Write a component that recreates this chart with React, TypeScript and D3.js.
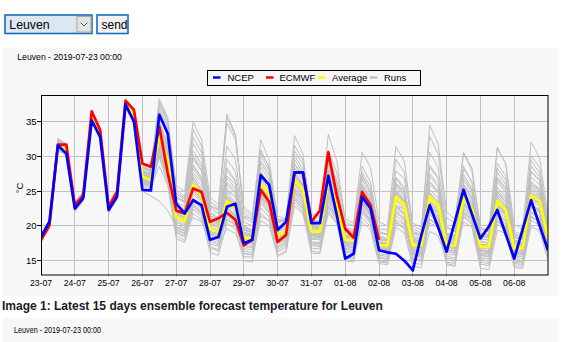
import React from "react";
import * as d3 from "d3";

// ---------- DATA ----------
const CITY = "Leuven";
const RUN_LABEL = "Leuven - 2019-07-23 00:00";
const CAPTION = "Image 1: Latest 15 days ensemble forecast temperature for Leuven";
const DATES = ["23-07", "24-07", "25-07", "26-07", "27-07", "28-07", "29-07", "30-07", "31-07", "01-08", "02-08", "03-08", "04-08", "05-08", "06-08"];
const Y_TICKS = [15, 20, 25, 30, 35];
const STEP_HOURS = 6;
const TOTAL_DAYS = 15;
const LEGEND = ["NCEP", "ECMWF", "Average", "Runs"];

const NCEP = [
  18.4, 20.6, 31.6, 30.4, 22.5, 24.0, 35.2, 32.8, 22.3, 24.2, 37.5, 35.0,
  25.2, 25.1, 36.0, 33.3, 23.2, 21.8, 23.7, 23.0, 18.0, 18.4, 22.75, 23.2,
  17.5, 18.0, 27.3, 25.9, 19.4, 20.6, 27.7, 27.7, 20.4, 20.4, 27.2, 21.6,
  15.3, 16.0, 24.2, 22.5, 16.5, 16.2, 16.0, 15.0, 13.6, 18.6, 23.0, 19.8,
  16.3, 20.7, 25.2, 21.7, 18.2, 19.9, 22.3, 18.8, 15.3, 19.5, 23.7, 20.1, 16.5,
];

const ECMWF = [
  18.0, 20.1, 31.7, 31.7, 23.0, 24.4, 36.5, 33.8, 22.75, 24.9, 38.0, 36.7,
  29.0, 28.5, 34.3, 27.6, 22.2, 21.8, 25.4, 24.9, 20.6, 21.1, 21.9, 20.9,
  17.2, 18.0, 25.2, 23.5, 17.7, 18.7, 27.7, 27.7, 20.6, 22.2, 30.6, 24.4,
  19.6, 18.3, 24.9, 23.0, 18.0,
];

const AVERAGE = [
  18.2, 20.3, 31.5, 31.0, 22.8, 24.2, 35.8, 33.3, 22.6, 24.6, 37.7, 36.0,
  27.1, 26.6, 32.8, 29.5, 21.2, 20.7, 25.9, 24.4, 19.6, 19.2, 23.6, 22.5,
  18.2, 18.2, 26.1, 24.4, 18.7, 19.2, 26.6, 25.2, 19.2, 19.2, 26.4, 23.2,
  18.0, 18.0, 24.7, 22.5, 17.2, 17.2, 24.2, 23.0, 17.2, 17.2, 24.2, 23.0,
  17.2, 17.2, 24.0, 22.5, 17.0, 17.0, 23.6, 22.3, 16.8, 16.8, 24.4, 23.6, 18.2,
];

const RUNS = [
  [18.6,20.8,32.2,31.4, 23.2,24.6,36.2,33.8, 23.0,25.1,38.2,36.6, 28.0,27.4,35.0,31.8, 23.5,22.8,29.6,27.9, 21.4,20.6,27.2,26.0, 19.8,19.4,29.4,27.6, 20.4,20.8,30.2,28.1, 21.0,20.6,28.8,25.4, 19.6,19.2,27.3,25.0, 18.4,18.0,26.8,25.2, 18.8,18.6,27.5,26.1, 19.0,18.5,25.9,24.0, 18.2,18.0,26.4,24.8, 17.9,17.5,27.0,25.9, 19.5],
  [17.8,19.9,30.9,30.5, 22.4,23.8,35.2,32.7, 22.1,24.1,37.1,35.3, 26.2,25.8,31.0,27.4, 19.4,18.9,23.2,22.0, 17.8,17.3,21.0,20.1, 16.4,16.2,23.3,21.8, 16.9,17.5,23.8,22.4, 17.6,17.4,23.5,21.0, 16.2,16.0,21.9,20.3, 15.6,15.3,21.5,20.4, 15.4,15.1,21.0,20.2, 15.3,15.2,21.6,20.1, 15.2,14.9,20.8,19.7, 14.8,14.6,21.9,21.0, 16.4],
  [18.4,20.5,31.9,31.2, 23.0,24.5,36.5,33.9, 22.8,24.9,38.3,36.9, 28.6,28.0,37.2,34.5, 25.3,24.2,32.8,30.6, 23.5,22.6,34.8,32.5, 22.8,21.6,31.0,28.3, 21.4,21.0,33.0,30.4, 20.2,20.0,27.7,24.8, 18.8,18.5,26.0,24.2, 19.0,18.7,27.9,26.8, 20.4,19.8,32.9,30.4, 21.2,20.4,28.6,26.2, 18.5,18.3,25.1,23.9, 18.0,17.6,25.8,24.6, 19.0],
  [18.0,20.1,31.2,30.7, 22.6,24.0,35.5,33.0, 22.4,24.4,37.4,35.6, 26.8,26.3,33.5,30.1, 21.6,21.0,26.4,24.9, 19.2,18.9,22.8,21.6, 18.6,18.5,27.0,25.3, 19.4,19.8,27.3,25.8, 18.7,18.6,25.6,22.4, 17.4,17.3,24.0,21.8, 16.8,16.7,25.1,23.9, 17.6,17.4,23.3,22.0, 16.6,16.5,24.8,23.4, 17.3,17.2,24.5,23.0, 16.2,16.3,23.9,23.1, 17.8],
  [18.9,20.9,32.4,31.6, 23.5,24.9,36.0,33.6, 23.1,25.2,37.9,36.3, 27.9,27.5,36.0,33.6, 24.2,23.5,33.9,31.5, 22.0,21.0,28.4,26.5, 20.0,19.4,24.6,23.0, 17.9,18.4,25.0,23.8, 18.1,18.0,24.1,21.9, 17.2,17.0,23.6,21.8, 16.9,16.6,22.8,21.7, 16.4,16.2,25.9,24.8, 18.0,17.8,26.5,24.9, 17.8,17.6,27.7,26.0, 18.6,18.0,29.4,27.6, 20.2],
  [17.6,19.7,31.0,30.3, 22.0,23.6,35.0,32.5, 21.9,23.9,37.0,35.1, 25.7,25.3,30.2,26.6, 18.6,17.9,22.4,21.3, 16.2,15.8,20.4,19.6, 15.0,14.8,21.8,20.7, 15.6,16.2,22.9,21.7, 16.1,16.0,22.2,20.3, 15.4,15.2,20.6,19.4, 14.6,14.4,19.8,19.0, 14.2,14.0,20.9,20.0, 14.8,14.6,21.3,20.4, 14.5,14.3,20.2,19.5, 14.0,13.9,20.8,20.1, 15.4],
  [18.3,20.4,31.7,31.1, 22.9,24.3,36.1,33.5, 22.7,24.7,37.6,36.0, 27.4,26.9,34.4,31.0, 22.4,21.9,27.3,25.8, 20.6,20.2,25.4,24.1, 19.1,18.8,28.5,26.6, 19.6,20.0,28.4,26.5, 20.2,20.0,27.9,24.6, 18.5,18.4,25.6,23.4, 17.8,17.5,25.2,23.8, 17.9,17.6,24.6,23.3, 17.4,17.3,23.2,21.9, 16.8,16.7,23.0,22.0, 17.2,17.0,25.1,24.2, 18.8],
  [18.1,20.2,31.4,30.9, 22.7,24.1,35.6,33.1, 22.5,24.5,37.8,36.1, 26.9,26.4,31.8,28.6, 20.5,20.0,24.6,23.4, 18.7,18.4,22.6,21.5, 17.5,17.6,25.3,23.7, 18.0,18.6,26.2,24.8, 19.0,18.9,25.8,22.8, 17.6,17.5,23.8,21.6, 16.5,16.4,23.0,21.9, 16.8,16.5,22.9,21.6, 16.5,16.4,23.4,22.0, 16.1,16.0,22.6,21.5, 16.4,16.2,23.6,22.8, 17.4],
  [18.7,20.7,32.0,31.3, 23.3,24.7,36.4,33.9, 23.0,25.0,38.1,36.5, 28.2,27.8,36.7,34.0, 24.6,23.8,30.8,28.9, 22.6,21.8,31.5,29.6, 21.2,20.5,26.4,24.6, 19.8,20.2,30.8,28.9, 21.5,21.2,33.2,29.4, 20.6,20.0,28.6,26.3, 19.2,18.8,29.6,27.7, 19.6,19.0,27.2,25.6, 18.6,18.2,26.9,25.1, 18.9,18.6,28.3,26.6, 19.2,18.7,30.1,28.4, 20.8],
  [18.5,20.6,31.8,31.2, 23.1,24.5,35.9,33.4, 22.9,24.8,37.5,35.8, 27.6,27.1,33.9,30.8, 21.9,21.3,27.0,25.2, 20.1,19.8,24.4,23.2, 18.9,18.7,26.8,25.1, 18.4,19.0,26.0,24.5, 19.6,19.5,26.9,23.9, 18.3,18.1,25.1,23.0, 17.5,17.3,24.6,23.4, 17.0,16.9,24.0,22.7, 17.6,17.4,24.5,22.9, 17.4,17.2,24.2,22.7, 16.9,16.8,24.8,24.0, 18.5],
  [17.9,20.0,31.1,30.6, 22.5,23.9,35.3,32.9, 22.2,24.3,37.3,35.5, 26.5,26.0,30.8,27.3, 19.9,19.4,23.6,22.5, 18.2,17.9,21.6,20.8, 17.0,16.9,24.2,22.9, 17.3,17.9,24.6,23.3, 18.2,18.1,24.4,21.6, 16.8,16.6,22.8,21.0, 16.0,15.8,22.3,21.1, 15.9,15.7,22.1,21.2, 15.9,15.8,22.4,21.3, 15.7,15.6,21.7,20.9, 15.5,15.3,22.6,21.9, 16.8],
  [18.8,20.9,32.6,31.8, 23.4,25.0,36.6,34.1, 23.2,25.3,38.4,36.8, 28.9,28.2,38.3,35.6, 25.8,24.9,35.0,32.4, 24.2,23.0,36.1,33.2, 21.9,20.8,32.4,29.5, 21.0,20.6,27.4,25.6, 19.8,19.6,26.0,23.5, 18.2,17.9,24.8,22.9, 17.7,17.4,26.2,25.0, 19.2,18.8,34.5,31.8, 22.0,21.0,30.5,27.9, 19.6,19.1,31.3,29.0, 20.2,19.6,32.1,29.8, 21.6],
  [18.2,20.3,31.5,31.0, 22.8,24.2,35.7,33.2, 22.6,24.6,37.7,36.0, 27.0,26.6,32.4,29.1, 21.0,20.6,25.5,24.0, 19.5,19.1,23.9,22.6, 18.0,18.1,25.8,24.2, 18.9,19.3,27.0,25.4, 19.3,19.2,26.2,23.1, 18.0,17.9,24.3,22.2, 17.1,17.0,24.0,22.8, 17.3,17.1,24.4,23.1, 17.0,16.9,23.8,22.3, 16.9,16.8,23.3,22.1, 16.7,16.6,24.1,23.3, 18.0],
  [17.7,19.8,30.8,30.2, 22.2,23.7,35.1,32.6, 22.0,24.0,36.9,35.0, 26.0,25.5,29.9,26.1, 18.2,17.6,21.8,20.9, 17.4,17.1,19.6,18.9, 16.1,15.9,22.6,21.3, 16.3,16.9,23.4,22.0, 16.8,16.7,22.9,20.6, 15.9,15.7,21.2,19.9, 15.0,14.8,20.4,19.6, 14.6,14.5,19.2,18.6, 15.1,14.9,20.6,19.8, 13.9,13.7,19.4,18.9, 14.3,14.1,19.9,19.3, 15.0],
  [18.4,20.6,31.9,31.3, 23.0,24.4,36.0,33.5, 22.8,24.8,37.9,36.2, 27.8,27.3,34.9,31.7, 22.9,22.2,28.2,26.6, 21.1,20.5,26.3,25.0, 19.5,19.1,29.0,27.2, 20.6,20.9,31.6,29.5, 21.8,21.4,30.9,27.6, 21.0,20.4,30.6,28.4, 20.6,20.0,31.4,29.3, 20.0,19.4,28.7,27.0, 19.7,19.2,28.2,26.4, 19.0,18.7,27.0,25.5, 18.4,18.0,27.8,26.6, 19.8],
  [18.0,20.0,31.3,30.8, 22.6,24.0,35.4,33.0, 22.3,24.4,37.2,35.4, 26.6,26.1,32.0,28.4, 20.2,19.7,24.9,23.6, 18.9,18.6,22.3,21.3, 17.8,17.6,24.8,23.2, 17.6,18.2,25.4,24.0, 18.4,18.3,25.1,22.2, 17.0,16.9,23.4,21.4, 16.3,16.2,23.6,22.4, 16.6,16.4,23.5,22.3, 16.2,16.1,22.9,21.6, 16.4,16.3,22.1,21.2, 15.9,15.8,23.0,22.3, 17.0],
  [18.6,20.7,32.1,31.5, 23.2,24.8,36.3,33.7, 23.1,25.0,38.0,36.4, 28.4,27.9,37.6,35.0, 24.9,24.0,31.9,29.8, 23.0,22.4,35.6,33.0, 22.4,21.2,30.2,28.0, 20.9,20.8,28.9,26.9, 20.6,20.4,28.2,25.2, 19.2,18.9,26.6,24.6, 18.1,17.8,25.9,24.6, 18.5,18.2,30.6,28.4, 19.9,19.3,27.4,25.4, 18.2,17.9,25.6,24.2, 17.6,17.4,26.3,25.3, 19.0],
  [18.3,20.4,31.6,31.0, 22.9,24.3,35.8,33.3, 22.6,24.7,37.6,35.9, 27.2,26.7,33.0,29.7, 21.4,20.8,26.1,24.6, 19.8,19.4,23.2,22.0, 18.3,18.2,26.3,24.6, 18.6,19.1,26.8,25.3, 19.0,18.9,26.6,23.4, 18.1,18.0,24.9,22.7, 17.3,17.1,24.4,23.1, 17.4,17.2,24.1,22.8, 17.1,17.0,24.2,22.7, 17.1,16.9,23.9,22.5, 16.6,16.5,24.6,23.8, 18.3],
  [17.9,20.1,31.2,30.7, 22.4,23.9,35.4,32.8, 22.3,24.2,37.3,35.4, 26.3,25.9,31.4,28.0, 19.6,19.0,24.1,22.9, 17.0,16.6,22.0,21.0, 15.6,15.5,23.9,22.5, 16.6,17.2,24.2,22.9, 17.2,17.0,23.0,21.3, 15.0,14.8,22.2,20.6, 14.9,14.6,21.9,20.8, 15.2,14.9,21.6,20.6, 14.4,14.2,22.0,20.8, 14.8,14.6,21.2,20.2, 14.6,14.4,21.4,20.6, 15.8],
  [18.5,20.5,31.8,31.2, 23.0,24.5,36.2,33.6, 22.9,24.9,37.8,36.2, 27.7,27.2,34.8,31.4, 22.7,22.0,28.6,26.9, 20.8,20.4,26.9,25.4, 19.4,19.0,27.8,25.9, 19.9,20.3,29.6,27.6, 20.7,20.4,29.4,26.1, 19.4,19.0,27.8,25.6, 18.6,18.2,27.0,25.6, 18.3,18.0,26.3,24.9, 18.8,18.4,30.6,28.3, 19.8,19.3,31.2,28.9, 18.9,18.4,28.6,27.0, 20.0],
  [18.1,20.2,31.3,30.8, 22.7,24.1,35.6,33.1, 22.4,24.5,37.4,35.7, 26.7,26.2,30.5,27.0, 20.8,20.2,25.2,23.8, 19.0,18.7,24.8,23.4, 17.2,17.1,24.5,23.0, 18.2,18.7,25.6,24.3, 18.6,18.5,24.8,22.0, 17.5,17.3,23.2,21.4, 16.6,16.5,22.6,21.6, 16.0,15.9,23.0,22.0, 16.3,16.2,22.1,21.0, 15.9,15.8,22.9,21.8, 15.7,15.6,22.8,22.1, 16.9],
  [18.8,20.8,32.3,31.7, 23.4,24.8,36.4,34.0, 23.2,25.2,38.2,36.7, 28.5,28.0,37.9,35.2, 24.1,23.3,29.8,28.0, 21.8,21.2,29.6,27.8, 20.6,20.0,27.6,25.8, 19.6,19.9,27.8,26.0, 19.9,19.7,27.2,24.1, 18.7,18.5,25.9,23.8, 18.0,17.8,25.6,24.3, 18.1,17.8,25.3,24.0, 17.8,17.6,25.4,23.7, 17.7,17.5,24.9,23.5, 17.4,17.2,25.9,25.0, 18.9],
  [17.8,19.9,31.0,30.4, 22.3,23.8,35.2,32.7, 22.1,24.2,37.1,35.2, 26.4,26.0,31.2,27.8, 19.2,18.6,23.0,21.8, 18.0,17.6,21.4,20.4, 16.7,16.6,23.6,22.2, 17.0,17.6,23.9,22.6, 17.7,17.6,23.8,21.4, 16.4,16.2,22.4,20.8, 15.8,15.6,22.0,20.9, 15.7,15.5,21.9,20.9, 15.6,15.4,21.8,20.7, 15.4,15.3,21.5,20.6, 15.2,15.0,22.0,21.4, 16.2],
  [18.4,20.4,31.6,31.1, 23.0,24.4,35.9,33.4, 22.7,24.6,37.6,35.9, 27.3,26.8,33.6,30.3, 21.8,21.2,26.8,25.1, 20.3,19.9,24.1,22.8, 18.7,18.5,25.6,24.0, 19.2,19.6,27.6,25.9, 19.5,19.3,25.3,22.6, 18.4,18.2,24.6,22.5, 17.6,17.4,24.9,23.5, 17.2,17.0,24.8,23.5, 17.5,17.3,25.6,24.1, 16.5,16.4,23.7,22.8, 17.8,17.5,27.8,26.5, 19.2],
  [18.2,20.2,31.4,30.9, 22.7,24.0,35.6,33.1, 22.5,24.5,37.4,35.6, 25.0,24.3,23.6,22.2, 19.8,19.3,21.2,20.6, 18.4,18.2,20.8,20.2, 17.6,17.4,21.4,20.8, 18.0,18.3,24.2,23.0, 17.4,17.2,22.6,21.2, 16.6,16.5,21.8,20.9, 16.8,16.6,20.9,20.2, 16.2,16.0,23.6,22.5, 16.9,16.7,21.8,21.1, 16.3,16.2,22.7,21.9, 16.0,15.9,21.2,20.7, 17.2],
  [18.6,20.6,31.8,31.3, 23.1,24.6,36.1,33.7, 22.9,24.9,38.0,36.4, 27.9,27.6,35.8,32.9, 24.0,23.6,27.6,26.4, 22.8,22.3,25.0,24.2, 21.4,21.0,25.2,24.4, 20.8,20.9,24.8,24.0, 20.9,20.6,24.0,22.9, 20.2,20.0,23.6,22.8, 19.6,19.4,23.0,22.4, 19.0,18.8,22.6,22.0, 18.9,18.6,22.9,22.2, 18.6,18.4,22.3,21.8, 18.3,18.1,22.9,22.4, 19.2],
  [18.3,20.5,31.8,31.0, 22.9,24.4,36.0,33.5, 22.8,24.8,37.9,36.3, 27.5,27.0,36.4,33.2, 23.0,22.4,30.2,28.4, 21.5,21.0,24.2,23.0, 19.0,18.6,30.6,28.6, 20.0,20.2,26.2,24.9, 18.8,18.7,29.8,26.6, 19.8,19.4,23.4,22.0, 17.0,16.8,26.0,24.8, 18.0,17.7,28.4,26.8, 18.4,18.1,24.6,23.2, 17.4,17.2,29.0,27.2, 18.8,18.3,24.2,23.4, 18.6],
  [18.0,20.0,31.1,30.5, 22.5,23.9,35.3,32.8, 22.2,24.2,37.0,35.2, 26.1,25.6,28.6,25.8, 19.0,18.4,22.8,21.6, 16.8,16.4,22.6,21.4, 16.0,15.8,20.8,20.0, 15.8,16.4,24.8,23.4, 16.4,16.2,21.8,20.4, 15.6,15.4,23.0,21.6, 15.4,15.1,20.6,19.8, 16.5,16.2,20.4,19.8, 14.6,14.3,23.2,21.8, 15.8,15.6,20.6,19.9, 15.0,14.8,23.2,22.2, 15.6],
  [18.5,20.4,31.6,31.0, 23.1,24.6,35.9,33.5, 22.8,24.7,37.8,36.0, 27.3,26.9,34.0,30.6, 22.0,21.6,28.8,27.0, 20.4,20.0,28.0,26.4, 19.6,19.2,24.0,22.9, 18.2,18.8,29.0,27.3, 20.0,19.8,24.6,22.4, 17.8,17.6,27.0,25.0, 18.2,18.0,23.8,22.8, 17.8,17.5,26.4,25.0, 18.2,17.9,26.0,24.5, 17.2,17.0,26.8,25.2, 17.6,17.3,25.4,24.4, 18.4],
  [18.2,20.3,31.4,30.9, 22.8,24.2,35.6,33.1, 22.5,24.6,37.5,35.8, 27.0,26.4,33.2,29.9, 21.2,20.8,24.0,23.0, 19.8,19.4,26.0,24.6, 18.4,18.2,23.2,22.0, 17.6,18.0,25.2,24.0, 18.6,18.4,27.6,24.6, 17.2,17.0,25.6,23.6, 16.4,16.2,24.8,23.6, 17.0,16.8,22.4,21.4, 17.9,17.6,22.6,21.4, 16.6,16.4,24.8,23.4, 16.2,16.0,26.4,25.0, 17.6],
];

// ---------- STYLE ----------
const FONT = "'Liberation Sans', Arial, Helvetica, sans-serif";
const GRID = "#c0c0c0";
const RUN_COLOR = "#c0c0c0";
const PANEL = "#f7f7f7";
const BLUE = "#0000ff";
const RED = "#ff0000";
const YELLOW = "#ffff00";

export default function App() {
  const W = 562;
  const H = 342;
  const left = 41, right = 548, top = 95, bottom = 275;

  const x = d3.scaleLinear().domain([0, TOTAL_DAYS]).range([left, right]);
  const y = d3.scaleLinear().domain([12.94, 38.84]).range([bottom, top]);

  const lineGen = d3
    .line<number>()
    .x((_, i) => x((i * STEP_HOURS) / 24))
    .y((d) => y(d));
  const path = (arr: number[]) => lineGen(arr) || "";

  const dayTicks = d3.range(0, TOTAL_DAYS + 1);

  const legendItems = [
    { label: LEGEND[0], color: BLUE, lx: 213, tx: 227.5 },
    { label: LEGEND[1], color: RED, lx: 266, tx: 279.5 },
    { label: LEGEND[2], color: YELLOW, lx: 317.5, tx: 332 },
    { label: LEGEND[3], color: RUN_COLOR, lx: 370, tx: 384 },
  ];

  return (
    <svg
      width={W}
      height={H}
      viewBox={`0 0 ${W} ${H}`}
      style={{ position: "absolute", left: 0, top: 0, display: "block" }}
      fontFamily={FONT}
    >
      <rect x={0} y={0} width={W} height={H} fill="#ffffff" />

      {/* select control */}
      <rect x={5} y={15} width={87} height={18.5} fill="#dce7f2" stroke="#1c6cbc" strokeWidth={1.6} />
      <rect x={77} y={16.5} width={14} height={15.5} fill="#e3e3e3" stroke="#a8a8a8" strokeWidth={1} />
      <polyline points="80.5,22.5 84,26 87.5,22.5" fill="none" stroke="#5a5a5a" strokeWidth={1} />
      <text x={9.3} y={29.3} fontSize={12.3} fill="#000">{CITY}</text>

      {/* send button */}
      <rect x={97} y={15} width={31} height={18.5} fill="#f2f2f2" stroke="#1c6cbc" strokeWidth={1.6} />
      <text x={101.5} y={29.3} fontSize={12} fill="#000">send</text>

      {/* chart panel */}
      <rect x={3} y={48} width={555} height={248} fill={PANEL} />
      <text x={17.3} y={59.5} fontSize={9.3} textLength={104.5} lengthAdjust="spacingAndGlyphs" fill="#000">
        {RUN_LABEL}
      </text>

      {/* legend */}
      <rect x={207.5} y={70.5} width={213} height={14.5} fill={PANEL} stroke="#000" strokeWidth={1} shapeRendering="crispEdges" />
      {legendItems.map((it) => (
        <g key={it.label}>
          <line x1={it.lx} x2={it.lx + 7.5} y1={77.5} y2={77.5} stroke={it.color} strokeWidth={2.5} />
          <text x={it.tx} y={81.3} fontSize={9.5} fill="#000">{it.label}</text>
        </g>
      ))}

      {/* grid */}
      <g shapeRendering="crispEdges" stroke={GRID} strokeWidth={1}>
        {dayTicks.slice(1, TOTAL_DAYS).map((d) => (
          <line key={"v" + d} x1={x(d)} x2={x(d)} y1={top} y2={bottom + 2} />
        ))}
        {Y_TICKS.map((t) => (
          <line key={"h" + t} x1={left} x2={right} y1={y(t)} y2={y(t)} />
        ))}
      </g>

      <defs>
        <clipPath id="plotClip">
          <rect x={left} y={top} width={right - left} height={bottom - top} />
        </clipPath>
      </defs>

      <g clipPath="url(#plotClip)" fill="none" strokeLinejoin="round">
        {RUNS.map((r, i) => (
          <path key={i} d={path(r)} stroke={RUN_COLOR} strokeWidth={1} />
        ))}
        <path d={path(AVERAGE)} stroke={YELLOW} strokeWidth={2.7} />
        <path d={path(ECMWF)} stroke={RED} strokeWidth={2.7} />
        <path d={path(NCEP)} stroke={BLUE} strokeWidth={2.7} />
      </g>

      {/* frame */}
      <rect x={left + 0.5} y={top + 0.5} width={right - left - 0.5} height={bottom - top - 0.5} fill="none" stroke="#000" strokeWidth={1} />

      {/* y axis ticks */}
      <g shapeRendering="crispEdges">
        {Y_TICKS.map((t) => (
          <line key={"yt" + t} x1={left - 4} x2={left} y1={y(t)} y2={y(t)} stroke="#000" strokeWidth={1} />
        ))}
      </g>
      {Y_TICKS.map((t) => (
        <text key={"yl" + t} x={36.5} y={y(t) + 3.4} fontSize={9.5} textAnchor="end" fill="#000">
          {t}
        </text>
      ))}
      <text
        x={19}
        y={188}
        fontSize={9.5}
        textAnchor="middle"
        dominantBaseline="central"
        transform="rotate(-90 19 188)"
        fill="#000"
      >
        °C
      </text>

      {/* x labels */}
      {DATES.map((lab, i) => (
        <text key={lab} x={x(i)} y={286} fontSize={8.7} textAnchor="middle" fill="#000">
          {lab}
        </text>
      ))}

      {/* caption */}
      <text x={2} y={309.5} fontSize={12} fontWeight="bold" fill="#1a1a28">
        {CAPTION}
      </text>

      {/* second panel */}
      <rect x={3} y={318} width={555} height={24} fill={PANEL} />
      <text x={14} y={333} fontSize={8.5} textLength={87} lengthAdjust="spacingAndGlyphs" fill="#000">
        {RUN_LABEL}
      </text>
    </svg>
  );
}
